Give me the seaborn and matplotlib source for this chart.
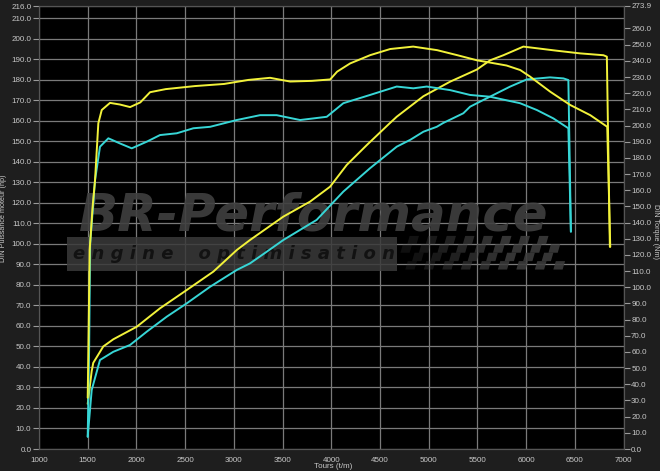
import numpy as np
import pandas as pd
import matplotlib
matplotlib.use("Agg")
import matplotlib.pyplot as plt
import seaborn as sns
from matplotlib.patches import Rectangle, Polygon

# ---- data ----
rpm_pow_y = [1500, 1541, 1557, 1660, 1763, 2003, 2242, 2516, 2790, 3030, 3166, 3508, 3782, 3988,
             4159, 4365, 4604, 4672, 4946, 5220, 5494, 5630, 5767, 5972, 6110, 6315, 6554, 6794,
             6829, 6860]
pow_y = [22, 38, 42, 50, 53.5, 59.6, 68.6, 77.5, 86.5, 97, 101.9, 113.3, 120.6, 127.9,
         138.5, 148.2, 159, 162, 172, 179.1, 185, 189.5, 192, 196.2, 195.4, 194.2, 192.9, 192,
         191.3, 98.6]

rpm_trq_y = [1500, 1510, 1520, 1550, 1575, 1609, 1644, 1729, 1830, 1935, 2040, 2140, 2300, 2602,
             2900, 3150, 3372, 3578, 3800, 3989, 4060, 4194, 4399, 4605, 4841, 5087, 5293, 5498,
             5632, 5800, 5940, 6042, 6248, 6453, 6659, 6833, 6864]
trq_y = [31.7, 76, 123, 149.6, 166.1, 201.4, 209.6, 214, 213, 211.4, 214.3, 220.6, 222.5, 224.4,
         225.7, 228.2, 229.5, 227.2, 227.6, 228.5, 233.3, 238.4, 243.5, 247.3, 248.8, 246.6, 243.5,
         240.3, 238.9, 237.1, 234.3, 230.2, 220.9, 212.7, 206.4, 199.2, 125]

rpm_pow_c = [1500, 1541, 1626, 1763, 1934, 2106, 2311, 2516, 2756, 3030, 3166, 3338, 3508, 3850,
             4124, 4398, 4672, 4809, 4946, 5083, 5151, 5356, 5425, 5562, 5630, 5836, 6007, 6246,
             6383, 6434, 6460]
pow_c = [6, 28.8, 43.4, 47.4, 50.7, 57.2, 64.5, 71, 79.1, 87.3, 90.5, 96.2, 101.9, 111.7,
         125.5, 136.9, 147.4, 150.7, 154.7, 157.1, 159, 163.7, 166.9, 170.2, 171.8, 176.7, 180.2,
         181.2, 180.7, 179.9, 106]

rpm_trq_c = [1500, 1515, 1525, 1575, 1626, 1712, 1832, 1952, 2106, 2242, 2414, 2584, 2756, 3030,
             3269, 3440, 3680, 3954, 4124, 4398, 4672, 4843, 4980, 5220, 5425, 5630, 5938, 6110,
             6280, 6434, 6460]
trq_c = [7.6, 63.4, 126.8, 166.1, 186.9, 192.1, 188.9, 185.9, 190, 194.1, 195.2, 198.3, 199.2,
         203.4, 206.4, 206.4, 203.4, 205.4, 213.8, 218.9, 224.1, 223, 224.1, 221.9, 218.9, 217.8,
         213.8, 209.6, 204.4, 198.3, 134.4]

x_ticks = list(range(1000, 7001, 500))
left_ticks = [216.0] + [float(v) for v in range(0, 211, 10)]
right_ticks = [273.9] + [float(v) for v in range(0, 261, 10)]

YELLOW = "#f2f23a"
CYAN = "#37d6d6"
TXT = "#c8c8c8"

sns.set_theme(style="dark")
plt.rcParams["font.family"] = ["Liberation Sans", "DejaVu Sans"]

fig = plt.figure(figsize=(6.6, 4.71), dpi=100, facecolor="#1e1e1e")
ax = fig.add_axes([39 / 660, 1 - 449 / 471, 584.5 / 660, 443 / 471])
ax.set_facecolor("black")
ax2 = ax.twinx()

ax.set_xlim(1000, 7000)
ax.set_ylim(0, 216)
ax2.set_ylim(0, 273.9)

# grid
ax.set_xticks(x_ticks)
ax.set_yticks(left_ticks)
ax.grid(True, color="#7a7a7a", linewidth=0.9)
ax2.grid(False)
ax.set_axisbelow(True)

# ---- watermark logo ----
wm_col = "#404040"
ax.add_patch(Rectangle((1287, 86.8), 4676 - 1287, 103.4 - 86.8, facecolor="#3a3a3a",
                       edgecolor="none", alpha=0.85, zorder=1))
ax.text(3818, 113.5, "BR-Performance", ha="center", va="center", fontsize=37,
        fontweight="bold", fontstyle="italic", color=wm_col, alpha=0.9, zorder=1,
        family="DejaVu Sans")
ax.text(3000, 95.1, "e n g i n e    o p t i m i s a t i o n", ha="center", va="center",
        fontsize=13, fontweight="bold", fontstyle="italic", color="#121212", zorder=1.1,
        family="DejaVu Sans")
# checkered flag
sq_w, sq_h = 95, 4.1
for i in range(17):
    for j in range(4):
        if (i + j) % 2 == 0:
            x0 = 4760 + i * sq_w - j * 25
            y0 = 87.5 + j * sq_h
            a = min(0.9, 0.25 + i * 0.06)
            ax.add_patch(Polygon([(x0, y0), (x0 + sq_w, y0), (x0 + sq_w + 25, y0 + sq_h),
                                  (x0 + 25, y0 + sq_h)], closed=True, facecolor="#3c3c3c",
                                 edgecolor="none", alpha=a, zorder=1))

# ---- curves ----
df_py = pd.DataFrame({"rpm": rpm_pow_y, "val": pow_y})
df_pc = pd.DataFrame({"rpm": rpm_pow_c, "val": pow_c})
df_ty = pd.DataFrame({"rpm": rpm_trq_y, "val": trq_y})
df_tc = pd.DataFrame({"rpm": rpm_trq_c, "val": trq_c})

LW = 1.4
sns.lineplot(data=df_pc, x="rpm", y="val", ax=ax, color=CYAN, linewidth=LW, sort=False,
             estimator=None, zorder=3)
sns.lineplot(data=df_py, x="rpm", y="val", ax=ax, color=YELLOW, linewidth=LW, sort=False,
             estimator=None, zorder=3)
sns.lineplot(data=df_tc, x="rpm", y="val", ax=ax2, color=CYAN, linewidth=LW, sort=False,
             estimator=None, zorder=3)
sns.lineplot(data=df_ty, x="rpm", y="val", ax=ax2, color=YELLOW, linewidth=LW, sort=False,
             estimator=None, zorder=3)

ax.set_xlim(1000, 7000)
ax.set_ylim(0, 216)
ax2.set_ylim(0, 273.9)

# ---- ticks & labels ----
ax.set_xticks(x_ticks)
ax.set_xticklabels([str(t) for t in x_ticks])
ax.set_yticks(left_ticks)
ax.set_yticklabels([f"{t:.1f}" for t in left_ticks])
ax2.set_yticks(right_ticks)
ax2.set_yticklabels([f"{t:.1f}" for t in right_ticks])

for a in (ax, ax2):
    a.tick_params(colors=TXT, labelsize=5.8, length=4, width=0.8, pad=1.5)
    for s in a.spines.values():
        s.set_color("#555555")
        s.set_linewidth(0.8)
ax.tick_params(axis="both", which="both", direction="out", color="#9a9a9a")
ax2.tick_params(axis="y", direction="out", color="#9a9a9a")

ax.set_ylabel("DIN Puissance moteur (hp)", color=TXT, fontsize=5.2)
ax.yaxis.set_label_coords(-0.055, 0.52)
ax2.set_ylabel("DIN Torque (Nm)", color=TXT, fontsize=5.2, rotation=-90, va="center")
ax2.yaxis.set_label_coords(1.055, 0.49)
ax.set_xlabel("")
ax2.set_xlabel("")
fig.text(333 / 660, 0.002, "Tours (t/m)", color=TXT, fontsize=5.8, ha="center", va="bottom")

fig.savefig("out.png", dpi=100, facecolor=fig.get_facecolor())
